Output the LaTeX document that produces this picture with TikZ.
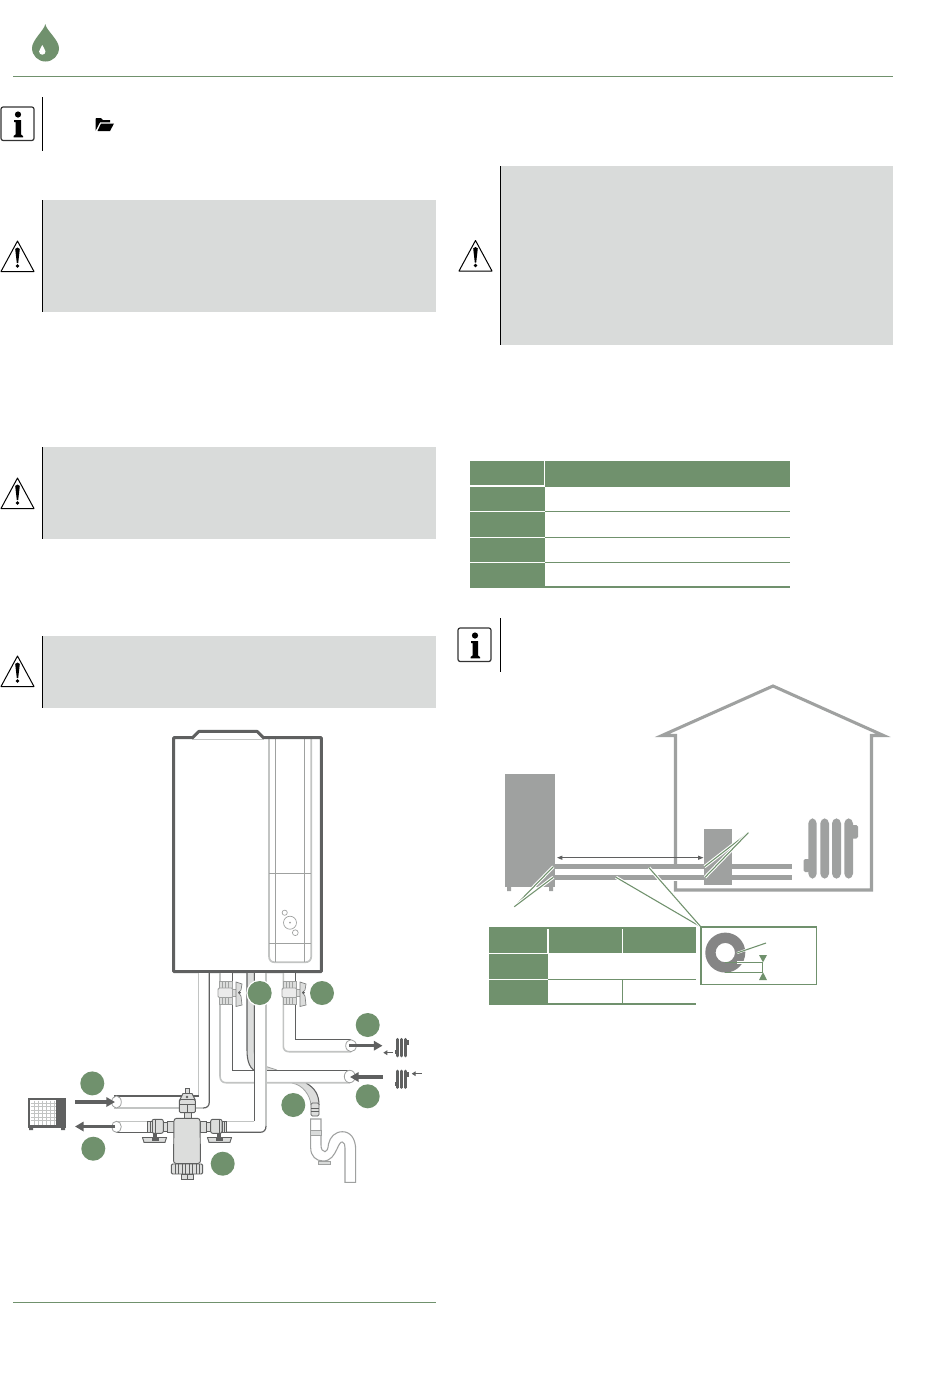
\documentclass[tikz,border=0pt]{standalone}
\usetikzlibrary{arrows.meta,shapes.geometric}
\definecolor{leaf}{HTML}{70916D}
\definecolor{panel}{HTML}{D9DBDA}
\definecolor{dk}{HTML}{5F6060}
\definecolor{md}{HTML}{9FA1A0}
\definecolor{lt}{HTML}{C2C4C3}
\definecolor{fillg}{HTML}{DCDDDC}
\tikzset{
 px/.style={x=0.75pt,y=-0.75pt},
 vbar/.style={line width=0.75pt,black},
 badge/.style={circle,fill=leaf,minimum size=18pt,inner sep=0pt,outer sep=0pt},
 edgeD/.style={dk,line width=0.9pt},
 edgeL/.style={lt,line width=1.2pt},
 part/.style={draw=dk,fill=fillg,line width=0.7pt},
 bigarrow/.style={dk,line width=2.4pt,-{Triangle[length=6.5pt,width=7pt]}},
 smallarrow/.style={dk,line width=0.9pt,-{Triangle[length=3pt,width=3.5pt]}},
 leader/.style={leaf,line width=0.8pt},
 halo/.style={white,line width=2.4pt},
 pipeH/.style={md,line width=3.6pt},
 housel/.style={md,line width=2.3pt,line join=miter},
 pipeend/.style={draw=md,fill=white,line width=0.6pt},
 thin panel/.style={md,line width=0.5pt},
}
\newcommand{\warnicon}[2]{%
 \begin{scope}[shift={(#1,#2)}]
  \draw[black,line width=0.75pt,line join=round] (16.5,0)--(33,30.5)--(0,30.5)--cycle;
  \fill[black] (14.2,8) .. controls (14.8,6) and (18.2,6) .. (18.8,8) -- (17.2,22) -- (15.8,22) -- cycle;
  \fill[black] (16.5,25) circle (1.8);
 \end{scope}}
\newcommand{\infoicon}[2]{%
 \begin{scope}[shift={(#1,#2)}]
  \draw[black!80,line width=0.9pt,rounded corners=1.6pt] (0,0) rectangle (33,33.5);
  \fill[black] (17,7.5) circle (3.1);
  \fill[black] (13,13) -- (20,13) -- (20,27.5) -- (22,29) -- (22,30.3) -- (12.5,30.3) -- (12.5,29) -- (14.5,27.5) -- (14.5,15) -- (13,15) -- cycle;
 \end{scope}}
\newcommand{\valve}[1]{%
 \begin{scope}[shift={(#1,0)}]
  \draw[part,draw=md] (0,981) rectangle (13,1004);
  \foreach \q in {3.5,6.5,9.5} {\draw[md,line width=0.5pt] (\q,981)--(\q,987.5) (\q,997.5)--(\q,1004);}
  \draw[part,draw=md,fill=white!92!black,rounded corners=1pt] (-1,988) rectangle (14,997.5);
  \draw[part,draw=md] (13.5,989) rectangle (17,996);
  \draw[part,draw=dk!80,line width=.5pt] (17,982) -- (23,984) -- (22,990) -- (19.5,992.5) -- (22,996) -- (23,1005) -- (17,1006.5) -- cycle;
  \fill[dk] (20.5,992.5) circle (1.5);
 \end{scope}}
\newcommand{\filterside}{%
  \draw[part] (167.7,1121) rectangle (174,1132.3);
  \draw[part] (163.3,1122.5) rectangle (167.7,1131);
  \draw[part,rounded corners=1.5pt] (152,1119.3) rectangle (163.3,1133.3);
  \draw[part] (147.7,1121) rectangle (152,1132);
  \draw[dk,line width=.5pt] (150,1121)--(150,1132) (155,1119.3)--(155,1133.3);
  \fill[dk] (153,1133.3) rectangle (157,1137);
  \draw[part,draw=dk] (142.5,1137.5) -- (166.5,1137.5) -- (165,1142.3) -- (144,1142.3) -- cycle;
  \fill[dk] (151.5,1137.5) rectangle (158.5,1141);
}
\newcommand{\miniheater}[2]{%
 \begin{scope}[shift={(#1,#2)}]
  \foreach \q in {1.6,5.8,10} {\draw[dk,line width=2.2pt,line cap=round] (\q,1)--(\q,17.5);}
  \fill[dk] (-1,12) rectangle (1,16);
  \fill[dk] (11,2) rectangle (13.2,7);
 \end{scope}}
\begin{document}
\begin{tikzpicture}[px]
\useasboundingbox (0,0) rectangle (950,1379);
\fill[white] (0,0) rectangle (950,1379);

% header drop
\fill[leaf] (45.3,24) .. controls (46,30) and (59,40) .. (59,48) arc[start angle=0,end angle=180,x radius=13.5,y radius=13.5] .. controls (32,40) and (44.5,30) .. (45.3,24) -- cycle;
\fill[white] (42.3,45) .. controls (42.6,47) and (45.5,49) .. (45.5,51.5) arc[start angle=0,end angle=180,x radius=3.2,y radius=3.2] .. controls (39.1,49) and (42,47) .. (42.3,45) -- cycle;
\draw[leaf,line width=0.8pt] (13,76.5) -- (893,76.5);

% info 1 and folder
\infoicon{1}{107}
\draw[vbar] (42.5,97) -- (42.5,151);
\fill[black] (95.5,119.5) -- (96,118) -- (101,118) -- (103,120) -- (110,120) -- (110,122.3) -- (100,122.3) -- (95.7,130.5) -- cycle;
\fill[black] (101,123.5) -- (114,123.5) -- (110,131) -- (97.5,131) -- cycle;

% warning boxes
\fill[panel] (43,200) rectangle (436,312);
\draw[vbar] (42.5,200) -- (42.5,312);
\warnicon{1}{241}
\fill[panel] (43,447) rectangle (436,539);
\draw[vbar] (42.5,447) -- (42.5,539);
\warnicon{1}{478}
\fill[panel] (43,636) rectangle (436,708);
\draw[vbar] (42.5,636) -- (42.5,708);
\warnicon{1}{656}
\fill[panel] (501,166) rectangle (893,345);
\draw[vbar] (500.5,166) -- (500.5,345);
\warnicon{459}{240.5}

% table 1
\fill[leaf] (470,461) rectangle (790,486.5);
\fill[leaf] (470,486.5) rectangle (544.5,587.5);
\draw[leaf,line width=0.9pt] (544.5,511.5)--(790,511.5) (544.5,537.5)--(790,537.5) (544.5,562.5)--(790,562.5);
\draw[leaf,line width=1.5pt] (544.5,586.7)--(790,586.7);
\draw[white,line width=0.8pt] (470,486)--(544.5,486) (470,511.5)--(544.5,511.5) (470,537.5)--(544.5,537.5) (470,562.5)--(544.5,562.5) (544.5,461)--(544.5,486.5);

% info 2
\infoicon{458}{628}
\draw[vbar] (500.5,618) -- (500.5,672);

% house
\draw[housel] (662,735.5) -- (773,686) -- (883.5,735.5) -- (871.5,735.5) -- (871.5,890) -- (675.5,890) -- (675.5,735.5) -- cycle;
% pipes
\fill[white] (555,863.5) rectangle (792,880.5);
\draw[pipeH] (555,866.7)--(792,866.7) (555,877.3)--(792,877.3);
% outdoor unit
\fill[md] (505,773.5) rectangle (555,887.3);
\fill[md] (507,887) rectangle (511,891) (549,887) rectangle (553,891);
% indoor unit
\fill[md] (704,829.3) rectangle (731.7,885);
% radiator
\foreach \a/\b in {808.3/816.7,820.3/829,832/841,844.3/853} {\fill[md,rounded corners=3.8pt] (\a,818.3) rectangle (\b,878.7);}
\fill[md,rounded corners=1.2pt] (851,825) rectangle (858,838.5);
\fill[md,rounded corners=1.2pt] (803.5,859) rectangle (810,872);
% dimension
\coordinate (dimL) at (557,857.7);
\coordinate (dimR) at (703.5,857.7);
\draw[dk,line width=0.7pt,{Triangle[length=4pt,width=3pt]}-{Triangle[length=4pt,width=3pt]}] (dimL) -- (dimR);
% leaders
\coordinate (c1) at (514.3,906.7);
\coordinate (c2) at (748.3,832.7);
\coordinate (c3) at (701,927);
\coordinate (p1) at (553.3,866.7);
\coordinate (p2) at (553.3,877.3);
\coordinate (p3) at (704.5,866.7);
\coordinate (p4) at (705,877.3);
\coordinate (p5) at (616,877.3);
\coordinate (p6) at (649,867.7);
\foreach \a/\b in {c1/p1,c1/p2,c2/p3,c2/p4,c3/p5,c3/p6} {\draw[halo] (\a)--(\b); \draw[leader] (\a)--(\b);}

% table 2
\fill[leaf] (489,927) rectangle (695.7,953.3);
\fill[leaf] (489,953.3) rectangle (548,1004.5);
\draw[leaf,line width=0.9pt] (548,979.3)--(695.7,979.3) (622.3,979.3)--(622.3,1003.5);
\draw[leaf,line width=1.4pt] (548,1003.7)--(695.7,1003.7);
\draw[white,line width=0.8pt] (489,953.3)--(548,953.3) (489,979.3)--(548,979.3) (548,929)--(548,953.3) (622.3,929)--(622.3,953.3);

% inset
\draw[leaf,line width=0.8pt,fill=white] (701,927) rectangle (816.7,984.3);
\fill[black!48,even odd rule] (725.3,952.6) circle (20) (725.3,952.6) circle (9.7);
\fill[white] (737,960.5) rectangle (747,964);
\coordinate (n1) at (737,953);
\coordinate (n2) at (766,943);
\draw[white,line width=1.6pt] (n1)--(n2);
\draw[leader] (n1)--(n2);
\coordinate (n3) at (725,962.3);
\coordinate (n4) at (762.7,962.3);
\coordinate (n5) at (725,972.3);
\coordinate (n6) at (762.7,972.3);
\draw[leader] (n3)--(n4) (n5)--(n6) (n4)--(n6);
\fill[leaf] (759,955) -- (767,955) -- (763,962.3) -- cycle;
\fill[leaf] (763,972.3) -- (767,980) -- (759,980) -- cycle;

% boiler
\draw[lt,line width=0.7pt] (192,739) -- (264,739);
\draw[lt,line width=1.3pt] (269,739) -- (269,956) .. controls (269,960) and (271,962.3) .. (275,962.3) -- (305,962.3) .. controls (309,962.3) and (311.3,960) .. (311.3,956) -- (311.3,739);
\draw[thin panel] (275,739)--(275,962.3) (304.3,739)--(304.3,962.3) (269,873.3)--(311.3,873.3) (269,943.3)--(311.3,943.3);
\draw[thin panel] (290,922.7) circle (6.5) (284.7,912.7) circle (2.6) (295.3,932.7) circle (2.9);
\fill[md] (290,922.7) circle (1);
\draw[dk,line width=2.2pt,line join=round] (173.7,971.7) -- (173.7,737.7) -- (192.5,737.7) -- (199,731.3) -- (257,731.3) -- (263.5,737.7) -- (321.3,737.7) -- (321.3,971.7) -- cycle;

% hose behind pipes
\fill[fillg] (247,973) -- (247,1050) .. controls (247,1062) and (250,1070) .. (258,1072) -- (292,1083) .. controls (303,1085) and (310,1095) .. (311,1105) -- (319,1105) .. controls (319,1095) and (315,1088) .. (306,1083) -- (277,1070) -- (266.7,1066.7) .. controls (258,1064) and (254,1058) .. (254,1050) -- (254,973) -- cycle;
\draw[dk,line width=0.8pt] (247,973) -- (247,1050) .. controls (247,1062) and (250,1070) .. (258,1072);
\draw[md,line width=0.6pt] (254,973) -- (254,1050) .. controls (254,1058) and (258,1064) .. (266.7,1066.7) -- (277,1070);
\draw[dk,line width=0.8pt] (319,1105) .. controls (319,1095) and (315,1088) .. (306,1083);
\draw[md,line width=0.6pt] (292,1083) .. controls (303,1085) and (310,1095) .. (311,1105);

% pipe D
\fill[white] (220,973) -- (220,1076) .. controls (220,1080) and (222,1082.7) .. (226,1082.7) -- (350,1082.7) -- (350,1070.3) -- (232.3,1070.3) -- (232.3,973) -- cycle;
\draw[edgeL] (220,973) -- (220,1076) .. controls (220,1080) and (222,1082.7) .. (226,1082.7) -- (350,1082.7);
\draw[edgeD] (232.3,973) -- (232.3,1070.3) -- (350,1070.3);
\draw[pipeend] (349.8,1076.5) ellipse (5.5 and 6.2);
% pipe E
\fill[white] (283.3,973) -- (283.3,1046) .. controls (283.3,1049.5) and (285.3,1051.7) .. (289,1051.7) -- (351,1051.7) -- (351,1039.7) -- (295.3,1039.7) -- (295.3,973) -- cycle;
\draw[edgeL] (283.3,973) -- (283.3,1046) .. controls (283.3,1049.5) and (285.3,1051.7) .. (289,1051.7) -- (351,1051.7);
\draw[edgeD] (295.3,973) -- (295.3,1039.7) -- (351,1039.7);
\draw[pipeend] (351,1045.7) ellipse (5.3 and 6);
% pipe C
\fill[white] (254.3,973) -- (254.3,1121.3) -- (225,1121.3) -- (225,1132.3) -- (260,1132.3) .. controls (264,1132.3) and (266,1130) .. (266,1126) -- (266,973) -- cycle;
\draw[edgeD] (254.3,973) -- (254.3,1121.3);
\draw[edgeL] (254.3,1121.3) -- (225,1121.3);
\draw[edgeL] (266,973) -- (266,1126);
\draw[edgeD] (266,1126) .. controls (266,1130) and (264,1132.3) .. (260,1132.3) -- (225,1132.3);
% pipe A
\fill[white] (198.7,973) -- (198.7,1096) -- (116,1096) -- (116,1108) -- (203,1108) .. controls (207,1108) and (209.3,1106) .. (209.3,1102) -- (209.3,973) -- cycle;
\draw[edgeL,line width=1pt] (198.7,973) -- (198.7,1096);
\draw[edgeD] (198.7,1096) -- (114,1096);
\draw[edgeD] (209.3,973) -- (209.3,1102) .. controls (209.3,1106) and (207,1108) .. (203,1108);
\draw[edgeL] (203,1108) -- (114,1108);
\draw[pipeend] (116.5,1102) ellipse (4.8 and 6);
% pipe B
\draw[edgeL,line width=1pt] (116,1121.3) -- (148,1121.3);
\draw[edgeD] (116,1132.3) -- (148,1132.3);
\draw[pipeend] (116.5,1126.8) ellipse (4.8 and 5.6);

% valves under boiler
\valve{219}
\valve{283}

% filter
\filterside
\begin{scope}[shift={(374,0)},xscale=-1]\filterside\end{scope}
\draw[part] (184,1112.7) rectangle (191,1118.5);
\draw[part] (185,1088) rectangle (189.5,1094);
\draw[part,fill=fillg] (180,1099.5) -- (183,1093.5) -- (192,1093.5) -- (195,1099.5) -- cycle;
\fill[dk] (187,1097) circle (1.3);
\draw[part,rounded corners=1pt] (179.3,1099.5) rectangle (195.3,1112.7);
\draw[dk,line width=.6pt] (179.3,1104)--(195.3,1104) (187.3,1104)--(187.3,1112.7);
\draw[part,rounded corners=2pt] (174,1118.3) -- (200,1118.3) -- (200.5,1163.5) -- (173.5,1163.5) -- cycle;
\draw[part,rounded corners=1pt] (171.3,1164) rectangle (202.7,1174);
\foreach \q in {175,178.5,182,185.5,189,192.5,196,199.5} {\draw[dk,line width=.5pt] (\q,1164)--(\q,1174);}
\draw[part] (181.7,1174) rectangle (193.3,1179.5);
\draw[dk,line width=.5pt] (187.5,1174)--(187.5,1179.5);

% drain
\draw[dk,line width=.5pt,fill=fillg,rounded corners=1pt] (311,1103) rectangle (319,1116);
\draw[dk,line width=.6pt] (311,1108)--(319,1108) (311,1111.5)--(319,1111.5);
\draw[md,line width=0.8pt,fill=white] (310.7,1119) -- (310.7,1148) .. controls (310.7,1156) and (316,1161) .. (323,1161) .. controls (331,1161) and (334,1155) .. (337,1149) .. controls (339,1144) and (341,1141.5) .. (342.5,1142) .. controls (344.5,1142.5) and (345,1145) .. (345,1148) -- (345,1182.3) -- (355.7,1182.3) -- (355.7,1150) .. controls (355.7,1138) and (350,1131.7) .. (342.5,1131.7) .. controls (335,1131.7) and (330,1137) .. (328.5,1144) .. controls (328,1149) and (327,1151.7) .. (325,1151.7) .. controls (322.5,1151.7) and (321,1149) .. (321,1145) -- (321,1119) -- cycle;
\draw[md,line width=.5pt,fill=panel] (310.7,1130) rectangle (321,1135);
\draw[md,line width=.5pt,fill=panel] (318,1161) rectangle (330,1164.5);

% heat pump
\fill[dk] (28,1098) rectangle (66.3,1128.3);
\fill[dk] (29,1128) rectangle (33,1130) (61,1128) rectangle (65,1130);
\fill[white] (30,1100) rectangle (56,1125);
\foreach \q in {34,38,42,46,50,54} {\draw[lt,line width=.5pt] (\q,1100.5)--(\q,1124.5);}
\foreach \q in {1103,1106.5,1110,1113.5,1117,1120.5} {\draw[lt,line width=.5pt] (30.5,\q)--(55.5,\q);}

% big arrows
\coordinate (a1s) at (75,1102);
\coordinate (a1e) at (115,1102);
\coordinate (a2s) at (115,1126.5);
\coordinate (a2e) at (75,1126.5);
\coordinate (a3s) at (349.3,1045.7);
\coordinate (a3e) at (382.5,1045.7);
\coordinate (a4s) at (382.7,1077);
\coordinate (a4e) at (350,1077);
\coordinate (a5s) at (392.7,1052.7);
\coordinate (a5e) at (383.3,1052.7);
\coordinate (a6s) at (421.7,1073.7);
\coordinate (a6e) at (411.7,1073.7);
\draw[bigarrow] (a1s)--(a1e);
\draw[bigarrow] (a2s)--(a2e);
\draw[bigarrow] (a3s)--(a3e);
\draw[bigarrow] (a4s)--(a4e);
\draw[smallarrow] (a5s)--(a5e);
\draw[smallarrow] (a6s)--(a6e);
\miniheater{395.5}{1038.3}
\miniheater{395.5}{1070}

% badges
\node[badge] (b1) at (92.3,1083.4) {};
\node[badge] (b2) at (93.3,1148.7) {};
\node[badge] (b3) at (222.7,1163.7) {};
\draw[white,line width=1pt] (259.7,993) circle (12.7);
\node[badge] (b4) at (259.7,993) {};
\node[badge] (b5) at (322,993) {};
\node[badge] (b6) at (367.7,1025) {};
\node[badge] (b7) at (367.7,1096.3) {};
\node[badge] (b8) at (293.3,1105) {};

% footer rule
\draw[leaf,line width=0.8pt] (13,1302.5) -- (436,1302.5);
\end{tikzpicture}
\end{document}
